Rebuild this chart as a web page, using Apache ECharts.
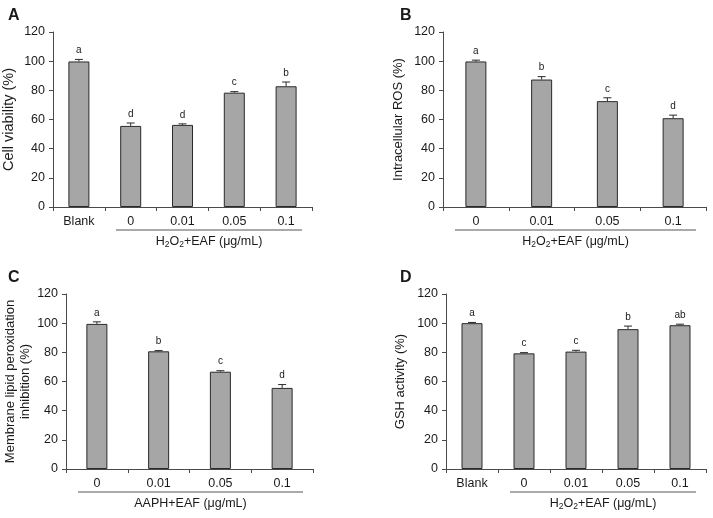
<!DOCTYPE html>
<html>
<head>
<meta charset="utf-8">
<script src="https://cdn.jsdelivr.net/npm/echarts@6/dist/echarts.min.js"></script>
<style>
html,body{margin:0;padding:0;background:#fff;}
#c{width:713px;height:518px;}
</style>
</head>
<body>
<div id="c"></div>
<script>
// ---- Data ----
const catsA = ['Blank', '0', '0.01', '0.05', '0.1'];
const valsA = [99.8, 55.6, 56.3, 78.4, 82.8];
const errA  = [1.4, 2.0, 0.7, 0.7, 2.9];
const letA  = ['a', 'd', 'd', 'c', 'b'];

const catsB = ['0', '0.01', '0.05', '0.1'];
const valsB = [99.8, 87.4, 72.6, 60.9];
const errB  = [0.9, 2.0, 2.3, 2.1];
const letB  = ['a', 'b', 'c', 'd'];

const catsC = ['0', '0.01', '0.05', '0.1'];
const valsC = [99.5, 80.7, 66.7, 55.6];
const errC  = [1.4, 0.5, 0.7, 2.3];
const letC  = ['a', 'b', 'c', 'd'];

const catsD = ['Blank', '0', '0.01', '0.05', '0.1'];
const valsD = [100.0, 79.3, 80.5, 95.9, 98.6];
const errD  = [0.5, 0.5, 0.9, 2.1, 0.7];
const letD  = ['a', 'c', 'c', 'b', 'ab'];

const yTicks = [0, 20, 40, 60, 80, 100, 120];

const yTitles = ['Cell viability (%)', 'Intracellular ROS (%)', 'Membrane lipid peroxidation\ninhibition (%)', 'GSH activity (%)'];
const xTitles = ['h2o2', 'h2o2', 'aaph', 'h2o2'];
const panelLetters = ['A', 'B', 'C', 'D'];

// ---- Layout ----
const FONT = '"Liberation Sans", Arial, Helvetica, sans-serif';
const TXT = '#1a1a1a';
const AX = '#4a4a4a';
const panels = [
  {cats: catsA, vals: valsA, err: errA, let: letA, grid: {left: 52, top: 32, width: 260, height: 175}, nameGap: 37, nameSize: 14.5, lineStartCat: 1, letterPos: [8, 8]},
  {cats: catsB, vals: valsB, err: errB, let: letB, grid: {left: 443, top: 32, width: 263, height: 175}, nameGap: 37, nameSize: 13, lineStartCat: 0, letterPos: [400, 8]},
  {cats: catsC, vals: valsC, err: errC, let: letC, grid: {left: 66, top: 294, width: 247, height: 175}, nameGap: 28, nameSize: 13, lineStartCat: 0, letterPos: [8, 270]},
  {cats: catsD, vals: valsD, err: errD, let: letD, grid: {left: 446, top: 294, width: 260, height: 175}, nameGap: 38, nameSize: 13, lineStartCat: 1, letterPos: [400, 270]}
];

const chart = echarts.init(document.getElementById('c'), null, {renderer: 'canvas'});

const grids = [], xAxes = [], yAxes = [], series = [], graphics = [];

panels.forEach((p, i) => {
  grids.push(Object.assign({containLabel: false}, p.grid));
  xAxes.push({
    type: 'category', gridIndex: i, data: p.cats,
    axisLine: {show: true, lineStyle: {color: AX, width: 1}},
    axisTick: {show: true, alignWithLabel: false, length: 4, lineStyle: {color: AX}},
    axisLabel: {color: TXT, fontSize: 12.5, fontFamily: FONT, margin: 8},
    splitLine: {show: false}
  });
  yAxes.push({
    type: 'value', gridIndex: i, min: yTicks[0], max: yTicks[yTicks.length - 1], interval: 20,
    name: yTitles[i], nameLocation: 'middle', nameGap: p.nameGap, nameRotate: 90,
    nameTextStyle: {color: TXT, fontSize: p.nameSize, fontFamily: FONT, lineHeight: 15},
    axisLine: {show: true, lineStyle: {color: AX, width: 1}},
    axisTick: {show: true, length: 4, lineStyle: {color: AX}},
    axisLabel: {color: TXT, fontSize: 12.5, fontFamily: FONT, margin: 8},
    splitLine: {show: false}
  });
  series.push({
    type: 'bar', xAxisIndex: i, yAxisIndex: i, data: p.vals, barWidth: 21,
    itemStyle: {color: '#a6a6a6', borderColor: '#2a2a2a', borderWidth: 1},
    silent: true, animation: false
  });
  const letters = p.let;
  series.push({
    type: 'custom', xAxisIndex: i, yAxisIndex: i, z: 5, animation: false, silent: true,
    data: p.vals.map((v, k) => [k, v, p.err[k]]),
    renderItem: function (params, api) {
      const x = api.value(0), v = api.value(1), e = api.value(2);
      const b = api.coord([x, v]);
      const t = api.coord([x, v + e]);
      const hw = 4;
      return {
        type: 'group',
        children: [
          {type: 'line', shape: {x1: b[0], y1: b[1], x2: t[0], y2: t[1]}, style: {stroke: '#2a2a2a', lineWidth: 1}},
          {type: 'line', shape: {x1: t[0] - hw, y1: t[1], x2: t[0] + hw, y2: t[1]}, style: {stroke: '#2a2a2a', lineWidth: 1}},
          {type: 'text', style: {text: letters[params.dataIndex], x: t[0], y: t[1] - 9, align: 'center', verticalAlign: 'middle', fontSize: 10, fontFamily: FONT, fill: TXT}}
        ]
      };
    }
  });

  // group underline + title under the treated categories
  const n = p.cats.length;
  const bw = p.grid.width / n;
  const x1 = p.grid.left + p.lineStartCat * bw + 12;
  const x2 = p.grid.left + p.grid.width - 10;
  const yLine = p.grid.top + p.grid.height + 23;
  graphics.push({type: 'line', shape: {x1: x1, y1: yLine, x2: x2, y2: yLine}, style: {stroke: '#555', lineWidth: 1}, silent: true});
  const rich = {n: {fontSize: 12.5, fontFamily: FONT, fill: TXT, color: TXT}, s: {fontSize: 8.5, fontFamily: FONT, color: TXT, padding: [5, 0, 0, 0]}};
  const txt = xTitles[i] === 'aaph' ? '{n|AAPH+EAF (μg/mL)}' : '{n|H}{s|2}{n|O}{s|2}{n|+EAF (μg/mL)}';
  graphics.push({type: 'text', x: (x1 + x2) / 2, y: yLine + 12, silent: true,
    style: {text: txt, rich: rich, align: 'center', verticalAlign: 'middle', fill: TXT, fontFamily: FONT, fontSize: 12.5}});
  graphics.push({type: 'text', x: p.letterPos[0], y: p.letterPos[1], silent: true,
    style: {text: panelLetters[i], fontSize: 16, fontWeight: 'bold', fontFamily: FONT, fill: TXT}});
});

chart.setOption({
  animation: false,
  backgroundColor: '#ffffff',
  grid: grids,
  xAxis: xAxes,
  yAxis: yAxes,
  series: series,
  graphic: graphics
});
</script>
</body>
</html>
